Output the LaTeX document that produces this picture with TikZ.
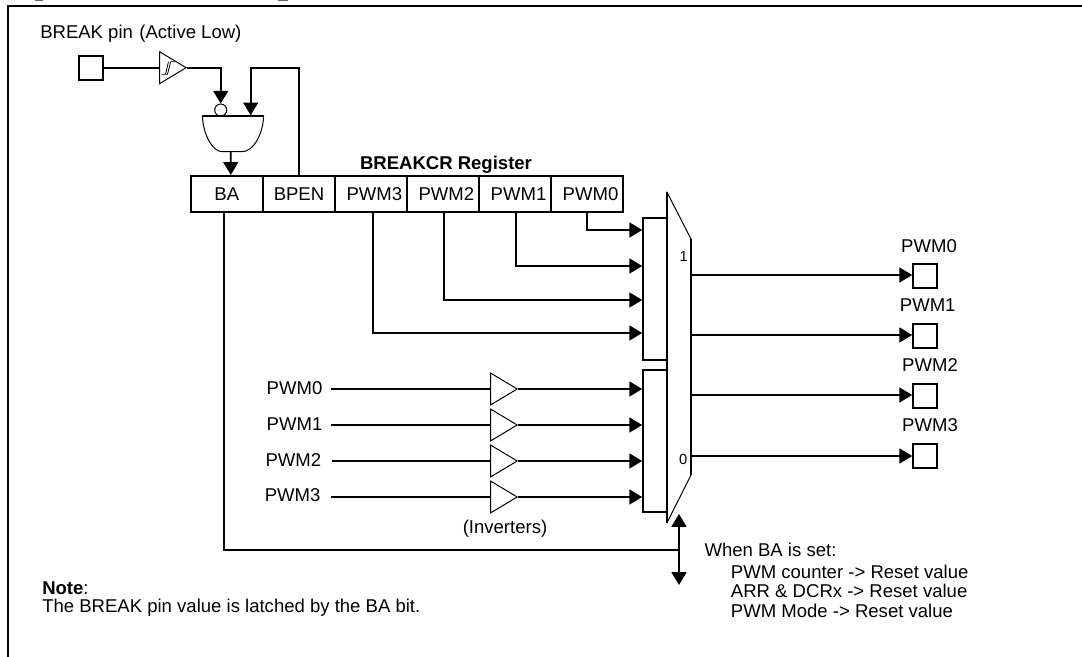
\documentclass[tikz,border=0pt]{standalone}
\usepackage{fontspec}
\setmainfont{Liberation Sans}
\usetikzlibrary{arrows.meta,shapes.geometric}
\tikzset{
  txt/.style={font=\fontsize{13.9pt}{14.5pt}\selectfont,inner sep=0pt,text=black},
  small/.style={font=\fontsize{11pt}{12pt}\selectfont,inner sep=0pt},
  conn/.style={line width=1.2pt},
  arr/.style={conn,-{Triangle[length=9.6pt,width=11.2pt]}},
  biarr/.style={conn,{Triangle[length=9.6pt,width=11.2pt]}-{Triangle[length=9.6pt,width=11.2pt]}},
  thin line/.style={line width=0.75pt},
  pinbox/.style={draw,conn,minimum width=18pt,minimum height=18pt,inner sep=0pt},
  regcell/.style={draw,conn,minimum width=54pt,minimum height=27pt,inner sep=0pt,
    font=\fontsize{13.9pt}{14.5pt}\selectfont,text height=9.9pt,text depth=0pt},
  busbox/.style={draw,conn,inner sep=0pt,minimum width=18pt},
  amp/.style={draw,thin line,isosceles triangle,isosceles triangle stretches,inner sep=0pt,
    minimum width=24pt,minimum height=20pt,shape border rotate=0,anchor=west},
  bubble/.style={draw,thin line,circle,minimum size=9pt,inner sep=0pt},
  gatebody/.style={minimum width=45.5pt,minimum height=26.5pt,inner sep=0pt},
}
\begin{document}
\begin{tikzpicture}[x=0.75pt,y=-0.75pt]
\useasboundingbox (0,0) rectangle (1082,657);
% frame and clipped title remnants
\draw[line width=1.5pt] (7.5,657) -- (7.5,5.5) -- (1082,5.5);
\draw[line width=0.5pt,black!60] (35,0.3) -- (43,0.3) (278,0.3) -- (288,0.3);

% BREAK input
\node[txt,anchor=base west] (breaklbl) at (40,38.3) {BREAK pin\hspace{1pt} (Active Low)};
\node[pinbox] (inpin) at (91,67.7) {};
\node[amp] (buf) at (159,67.7) {};
\draw[line width=0.6pt] (161.5,74.3) -- (167.5,74.3) -- (170.7,61.7) -- (175,61.7)
  (165.5,74.3) -- (168.5,61.7);
\draw[conn] (inpin.east) -- (buf.west);

% gate
\node[gatebody] (gate) at (233,133.8) {};
\draw[thin line] (gate.north west) .. controls (203,135) and (213,151.7) .. (222,151.7)
  -- (242,151.7) .. controls (253,151.7) and (263,135) .. (gate.north east);
\draw[conn] (gate.north west) -- (gate.north east);
\node[bubble] (bub) at (220.7,110) {};

% register
\node[txt,font=\fontsize{13.9pt}{14.5pt}\selectfont\bfseries,anchor=base] (regtitle) at (446,169.3) {BREAKCR Register};
\node[regcell] (rBA) at (226.85,193.7) {BA};
\node[regcell] (rBP) at (299,193.7) {BPEN};
\node[regcell] (r3) at (371,193.7) {\hspace{5pt}PWM3};
\node[regcell] (r2) at (443.1,193.7) {\hspace{5pt}PWM2};
\node[regcell] (r1) at (515.2,193.7) {\hspace{5pt}PWM1};
\node[regcell] (r0) at (587.2,193.7) {\hspace{5pt}PWM0};

\coordinate (gin1) at (220.7,103.6);
\coordinate (bt) at (250.7,67.7);
\coordinate (gin2) at (250.7,115.3);
\draw[arr] (buf.east) -| (gin1);
\draw[arr] (rBP.north) |- (bt) -- (gin2);
\draw[arr] ([xshift=-1.7pt]gate.south) -- ([xshift=3pt]rBA.north);

% mux and input buses
\node[busbox,minimum height=106.7pt] (busT) at (654.7,288.85) {};
\node[busbox,minimum height=106.3pt] (busB) at (654.7,440.85) {};
\fill[white] (666.7,191.7) -- (691,239) -- (691,475) -- (666.7,523.3) -- cycle;
\node[inner sep=0pt,minimum width=18pt,minimum height=249pt] (mux) at (678.85,357.5) {};
\draw[thin line] (666.7,191.7) -- (691,239) (691,475) -- (666.7,523.3);
\draw[conn] (666.7,191.7) -- (666.7,523.3) (691,239) -- (691,475);
\node[small] (mux1) at (683.7,256) {1};
\node[small] (mux0) at (683.3,459) {0};

\coordinate (i0) at (642.2,230);
\coordinate (i1) at (642.2,266);
\coordinate (i2) at (642.2,300);
\coordinate (i3) at (642.2,333);
\draw[arr] (r0.south) |- (i0);
\draw[arr] ([xshift=0.6pt]r1.south) |- (i1);
\draw[arr] ([xshift=0.6pt]r2.south) |- (i2);
\draw[arr] ([xshift=1.45pt]r3.south) |- (i3);

% external PWM inputs
\node[txt,anchor=base east] (l0) at (322.6,394.5) {PWM0};
\node[txt,anchor=base east] (l1) at (322.6,430) {PWM1};
\node[txt,anchor=base east] (l2) at (321.5,466) {PWM2};
\node[txt,anchor=base east] (l3) at (320.7,501.5) {PWM3};
\node[amp] (a0) at (490,389) {};
\node[amp] (a1) at (490,425) {};
\node[amp] (a2) at (490,461) {};
\node[amp] (a3) at (490,497) {};
\coordinate (j0) at (642.2,389);
\coordinate (j1) at (642.2,425);
\coordinate (j2) at (642.2,461);
\coordinate (j3) at (642.2,497);
\draw[conn] ([xshift=6pt]l0.east |- a0.west) -- (a0.west);
\draw[conn] ([xshift=6pt]l1.east |- a1.west) -- (a1.west);
\draw[conn] ([xshift=8pt]l2.east |- a2.west) -- (a2.west);
\draw[conn] ([xshift=7.5pt]l3.east |- a3.west) -- (a3.west);
\draw[arr] (a0.east) -- (j0);
\draw[arr] (a1.east) -- (j1);
\draw[arr] (a2.east) -- (j2);
\draw[arr] (a3.east) -- (j3);
\node[txt,anchor=base] (invlbl) at (505,533.5) {(Inverters)};

% outputs
\node[pinbox] (o0) at (925,276) {};
\node[pinbox] (o1) at (925,336) {};
\node[pinbox] (o2) at (925,396) {};
\node[pinbox] (o3) at (925,456) {};
\node[txt,anchor=base] (ol0) at (929,252) {PWM0};
\node[txt,anchor=base] (ol1) at (927.7,311.7) {PWM1};
\node[txt,anchor=base] (ol2) at (930,371) {PWM2};
\node[txt,anchor=base] (ol3) at (930,431) {PWM3};
\coordinate (m0) at (691,275);
\coordinate (m1) at (691,335);
\coordinate (m2) at (691,395);
\coordinate (m3) at (691,456);
\draw[arr] (m0) -- (m0 -| o0.west);
\draw[arr] (m1) -- (m1 -| o1.west);
\draw[arr] (m2) -- (m2 -| o2.west);
\draw[arr] (m3) -- (m3 -| o3.west);

% BA line
\coordinate (bt1) at (679,514);
\coordinate (bt2) at (679,585);
\coordinate (bj) at (679,550);
\draw[biarr] (bt1) -- (bt2);
\draw[conn] ([xshift=-2.3pt]rBA.south) |- (bj);

% texts
\node[txt,anchor=base west] (w0) at (704.3,556.7) {When BA is set:};
\node[txt,anchor=base west] (w1) at (730.7,578) {PWM counter -> Reset value};
\node[txt,anchor=base west] (w2) at (730.7,597.3) {ARR \& DCRx -> Reset value};
\node[txt,anchor=base west] (w3) at (730.7,617) {PWM Mode -> Reset value};
\node[txt,anchor=base west] (n0) at (42,594.3) {\textbf{Note}:};
\node[txt,anchor=base west] (n1) at (42,612.7) {The BREAK pin value is latched by the BA bit.};
\end{tikzpicture}
\end{document}
